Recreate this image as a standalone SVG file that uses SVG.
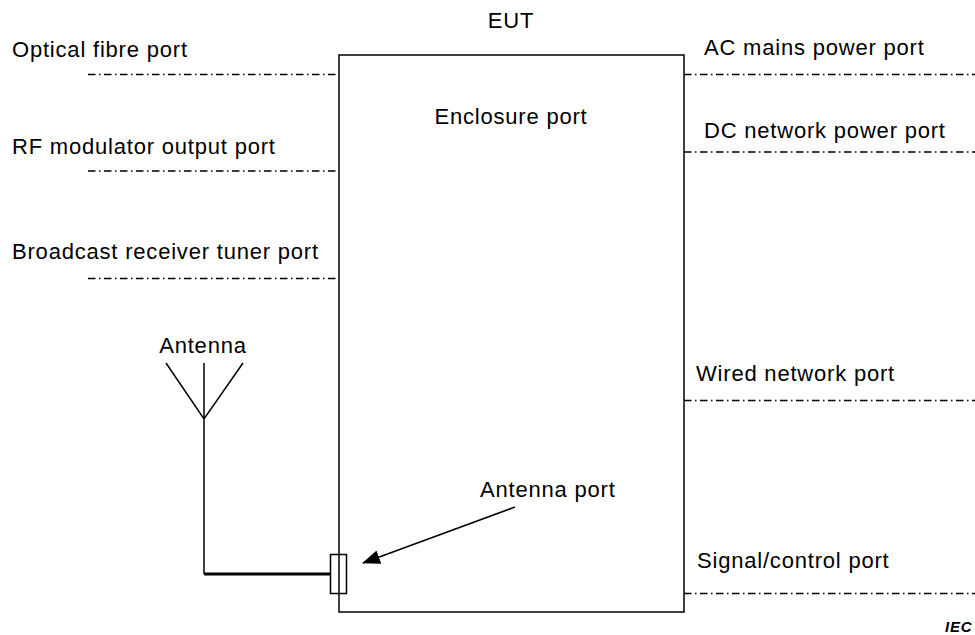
<svg xmlns="http://www.w3.org/2000/svg" width="975" height="635" viewBox="0 0 975 635">
<style>
text{font-family:"Liberation Sans",Arial,sans-serif;font-size:22px;letter-spacing:0.8px;fill:#000}
.port{stroke:#000;stroke-width:1.4;stroke-dasharray:7.5 3.5 1.5 3.5;fill:none}
.ln{stroke:#000;stroke-width:1.5;fill:none}
.thick{stroke:#000;stroke-width:3.2;fill:none}
.iec{font-size:15px;font-style:italic;font-weight:bold;letter-spacing:0.8px}
</style>
<defs>
<marker id="ah" markerUnits="userSpaceOnUse" markerWidth="18" markerHeight="14" refX="17" refY="7" orient="auto">
<path d="M0,0 L18,7 L0,14 z" fill="#000"/>
</marker>
</defs>
<g id="eut">
<rect x="339" y="55" width="345" height="557" class="ln" fill="#fff"/>
<text x="511" y="28" text-anchor="middle">EUT</text>
<text x="511" y="124" text-anchor="middle">Enclosure port</text>
</g>
<g id="connectors">
<line class="port" x1="88" y1="74.5" x2="339" y2="74.5"/>
<line class="port" x1="88" y1="171" x2="339" y2="171"/>
<line class="port" x1="88" y1="278.5" x2="339" y2="278.5"/>
<line class="port" x1="684" y1="74.5" x2="975" y2="74.5"/>
<line class="port" x1="684" y1="152" x2="975" y2="152"/>
<line class="port" x1="684" y1="400.5" x2="975" y2="400.5"/>
<line class="port" x1="684" y1="593.5" x2="975" y2="593.5"/>
<line class="thick" x1="204" y1="574" x2="330" y2="574"/>
<line class="ln" x1="515" y1="507" x2="363" y2="563" marker-end="url(#ah)"/>
</g>
<g id="optical-fibre-port"><text x="12" y="57">Optical fibre port</text></g>
<g id="rf-modulator-output-port"><text x="12" y="154">RF modulator output port</text></g>
<g id="broadcast-receiver-tuner-port"><text x="12" y="259">Broadcast receiver tuner port</text></g>
<g id="ac-mains-power-port"><text x="704" y="55">AC mains power port</text></g>
<g id="dc-network-power-port"><text x="704" y="138">DC network power port</text></g>
<g id="wired-network-port"><text x="696" y="381">Wired network port</text></g>
<g id="signal-control-port"><text x="697" y="568">Signal/control port</text></g>
<g id="antenna">
<text x="203" y="353" text-anchor="middle">Antenna</text>
<path class="ln" d="M166,363 L204,419 L243,363 M204,363 L204,574"/>
</g>
<g id="antenna-port">
<rect x="330.5" y="554.5" width="16" height="39" class="ln" fill="#fff"/>
<text x="480" y="497">Antenna port</text>
</g>
<text class="iec" x="945" y="632">IEC</text>
</svg>
